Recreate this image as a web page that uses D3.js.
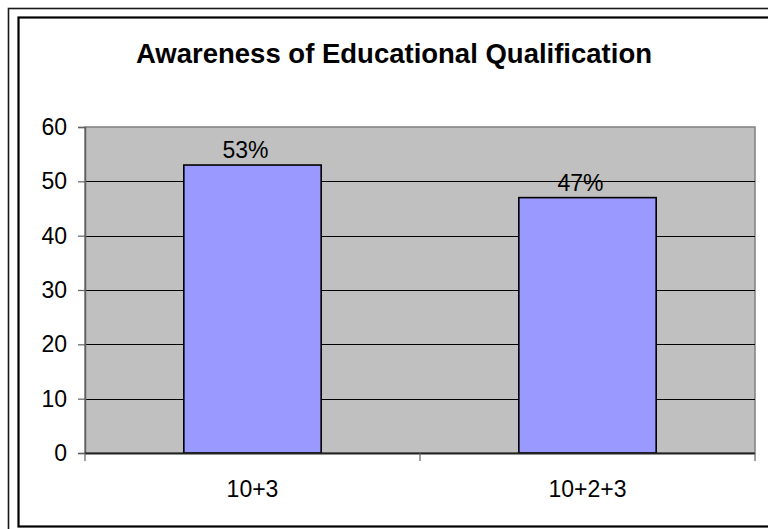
<!DOCTYPE html>
<html>
<head>
<meta charset="utf-8">
<script src="https://cdn.jsdelivr.net/npm/d3@7"></script>
<style>
  html, body { margin: 0; padding: 0; background: #fff; }
  svg { display: block; font-family: Arial, "Liberation Sans", sans-serif; }
</style>
</head>
<body>
<svg id="chart" width="768" height="529"></svg>
<script>
// Survey result: share of respondents aware of each qualification path
const categories = ["10+3", "10+2+3"];
const values = [53, 47];
const valueLabels = ["53%", "47%"];
const yTicks = [0, 10, 20, 30, 40, 50, 60];
const title = "Awareness of Educational Qualification";

const svg = d3.select("#chart");
const plot = { left: 85, right: 755, top: 127, bottom: 453 };

// Double frame around the chart
svg.append("rect")
  .attr("x", 8.5).attr("y", 8.5).attr("width", 800).attr("height", 600)
  .attr("fill", "none").attr("stroke", "#1a1a1a").attr("stroke-width", 1.6);
svg.append("rect")
  .attr("x", 18.5).attr("y", 17.5).attr("width", 800).attr("height", 509)
  .attr("fill", "#fff").attr("stroke", "#000").attr("stroke-width", 2.2);

// Title
svg.append("text")
  .attr("x", 394).attr("y", 63)
  .attr("text-anchor", "middle")
  .attr("font-size", 27.5).attr("font-weight", "bold")
  .attr("fill", "#000")
  .text(title);

const x = d3.scaleBand().domain(categories)
  .range([plot.left, plot.right]).paddingInner(0.59).paddingOuter(0.295);
const xOuter = d3.scaleBand().domain(categories).range([plot.left, plot.right]);
const y = d3.scaleLinear().domain([0, 60]).range([plot.bottom, plot.top]);

// Plot background
svg.append("rect")
  .attr("x", plot.left).attr("y", plot.top)
  .attr("width", plot.right - plot.left).attr("height", plot.bottom - plot.top)
  .attr("fill", "#c0c0c0").attr("stroke", "#808080").attr("stroke-width", 1.5);

// Horizontal gridlines
svg.append("g").selectAll("line")
  .data(yTicks.filter(d => d > 0 && d < 60))
  .join("line")
  .attr("x1", plot.left).attr("x2", plot.right)
  .attr("y1", d => Math.round(y(d)) + 0.5).attr("y2", d => Math.round(y(d)) + 0.5)
  .attr("stroke", "#000").attr("stroke-width", 1);

// Bars
svg.append("g").selectAll("rect")
  .data(values)
  .join("rect")
  .attr("x", (d, i) => x(categories[i]))
  .attr("y", d => y(d))
  .attr("width", x.bandwidth())
  .attr("height", d => y(0) - y(d))
  .attr("fill", "#9999ff").attr("stroke", "#000").attr("stroke-width", 1.6);

// Value labels above bars
svg.append("g").selectAll("text")
  .data(values)
  .join("text")
  .attr("x", (d, i) => x(categories[i]) + x.bandwidth() / 2 - 7)
  .attr("y", d => y(d) - 7)
  .attr("text-anchor", "middle")
  .attr("font-size", 23).attr("fill", "#000")
  .text((d, i) => valueLabels[i]);

// Y axis
const yAxis = svg.append("g")
  .attr("transform", `translate(${plot.left},0)`)
  .call(d3.axisLeft(y).tickValues(yTicks).tickSize(7).tickPadding(11).tickFormat(d3.format("d")));
yAxis.select(".domain").attr("stroke", "#606060").attr("stroke-width", 1.5);
yAxis.selectAll(".tick line").attr("stroke", "#606060").attr("stroke-width", 1.2);
yAxis.selectAll(".tick text")
  .attr("font-size", 23).attr("fill", "#000")
  .attr("font-family", "Arial, 'Liberation Sans', sans-serif");

// X axis: ticks at category boundaries, labels at category centres
const boundaries = [plot.left, ...categories.map(c => xOuter(c) + xOuter.bandwidth())];
const xAxis = svg.append("g");
xAxis.append("line")
  .attr("x1", plot.left).attr("x2", plot.right)
  .attr("y1", plot.bottom + 0.5).attr("y2", plot.bottom + 0.5)
  .attr("stroke", "#222").attr("stroke-width", 2);
xAxis.selectAll("line.tick")
  .data(boundaries)
  .join("line").attr("class", "tick")
  .attr("x1", d => d).attr("x2", d => d)
  .attr("y1", plot.bottom).attr("y2", plot.bottom + 8)
  .attr("stroke", "#606060").attr("stroke-width", 1.2);
xAxis.selectAll("text")
  .data(categories)
  .join("text")
  .attr("x", d => xOuter(d) + xOuter.bandwidth() / 2)
  .attr("y", 497)
  .attr("text-anchor", "middle")
  .attr("font-size", 23).attr("fill", "#000")
  .text(d => d);
</script>
</body>
</html>
